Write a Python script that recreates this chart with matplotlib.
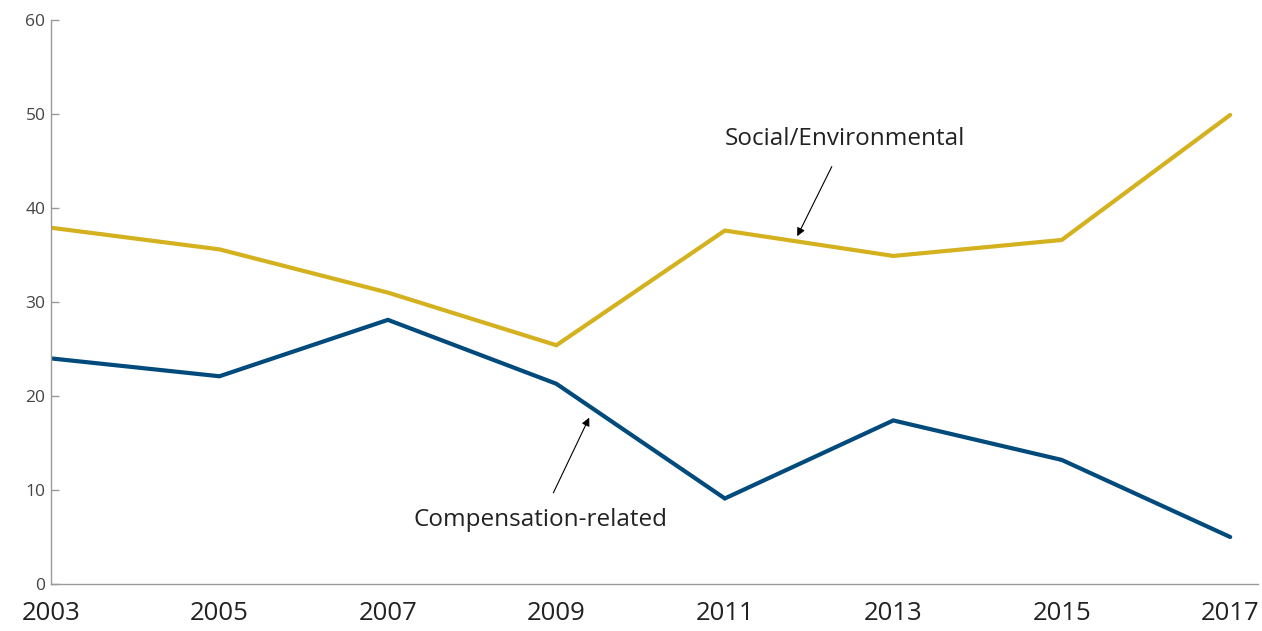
import matplotlib.pyplot as plt

years = [2003, 2005, 2007, 2009, 2011, 2013, 2015, 2017]
social_env = [37.9, 35.6, 31.0, 25.4, 37.6, 34.9, 36.6, 49.9]
compensation = [24.0, 22.1, 28.1, 21.3, 9.1, 17.4, 13.2, 5.0]
y_ticks = [0, 10, 20, 30, 40, 50, 60]

plt.rcParams['font.family'] = ['Open Sans', 'DejaVu Sans']

fig = plt.figure(figsize=(12.62, 6.31), dpi=100)
ax = fig.add_axes([51/1262, 47/631, 1207/1262, 564/631])

ax.plot(years, social_env, color='#D4B11E', lw=3, solid_capstyle='round', solid_joinstyle='miter')
ax.plot(years, compensation, color='#004A7C', lw=3, solid_capstyle='round', solid_joinstyle='miter')

ax.set_xlim(2003, 2017.33)
ax.set_ylim(0, 60)
ax.set_yticks(y_ticks)
ax.set_xticks(years)

for s in ['top', 'right']:
    ax.spines[s].set_visible(False)
for s in ['left', 'bottom']:
    ax.spines[s].set_color('#9a9a9a')
    ax.spines[s].set_linewidth(1.0)

ax.tick_params(axis='y', direction='in', length=6, width=1, color='#9a9a9a',
               labelsize=12.5, labelcolor='#444444', pad=4)
ax.tick_params(axis='x', length=0, labelsize=18.5, labelcolor='#222222', pad=12)

ax.annotate('Social/Environmental', xy=(2011.86, 37.0), xytext=(2012.43, 47.3),
            ha='center', va='center', fontsize=17.5, color='#222222',
            arrowprops=dict(arrowstyle='-|>', color='black', lw=0.8,
                            mutation_scale=12, shrinkA=10, shrinkB=0))
ax.annotate('Compensation-related', xy=(2009.39, 17.7), xytext=(2008.81, 6.8),
            ha='center', va='center', fontsize=17.5, color='#222222',
            arrowprops=dict(arrowstyle='-|>', color='black', lw=0.8,
                            mutation_scale=12, shrinkA=10, shrinkB=0))

fig.savefig('out.png', dpi=100)
